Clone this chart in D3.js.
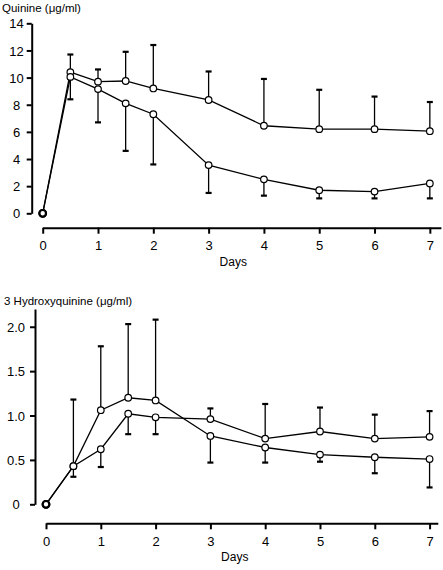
<!DOCTYPE html>
<html><head><meta charset="utf-8">
<script src="https://cdn.jsdelivr.net/npm/d3@7"></script>
<style>
body{margin:0;background:#fff;}
svg{display:block;font-family:Arial,"Liberation Sans",Helvetica,sans-serif;}
</style></head>
<body>
<svg id="chart" width="443" height="570"></svg>
<script>
// ---- data ----
const days = [0, 0.5, 1, 1.5, 2, 3, 4, 5, 6, 7];
const xTicks = [0, 1, 2, 3, 4, 5, 6, 7];

// Quinine (µg/ml)
const quinineA = [0, 10.4, 9.7, 9.75, 9.2, 8.35, 6.45, 6.2, 6.2, 6.05];
const quinineAErr = [null, 11.7, 10.6, 11.9, 12.4, 10.45, 9.9, 9.1, 8.6, 8.2];
const quinineB = [0, 10.05, 9.15, 8.1, 7.3, 3.55, 2.5, 1.7, 1.6, 2.2];
const quinineBErr = [null, 8.4, 6.7, 4.6, 3.6, 1.5, 1.3, 1.1, 1.1, 1.1];
const quinineTicks = [0, 2, 4, 6, 8, 10, 12, 14];

// 3 Hydroxyquinine (µg/ml)
const hydroA = [0, 0.43, 1.06, 1.2, 1.17, 0.77, 0.64, 0.56, 0.53, 0.51];
const hydroAErr = [null, 1.18, 1.78, 2.03, 2.08, 0.47, 0.47, 0.48, 0.35, 0.19];
const hydroB = [0, 0.43, 0.62, 1.02, 0.98, 0.96, 0.74, 0.82, 0.74, 0.76];
const hydroBErr = [null, 0.31, 0.42, 0.79, 0.79, 1.08, 1.13, 1.09, 1.01, 1.05];
const hydroTicks = [0, 0.5, 1.0, 1.5, 2.0];
const hydroTickLabels = ["0", "0.5", "1.0", "1.5", "2.0"];

const svg = d3.select("#chart");

function panel(cfg) {
  const g = svg.append("g");
  const x = d3.scaleLinear().domain(cfg.xDomain).range(cfg.xRange);
  const y = d3.scaleLinear().domain(cfg.yDomain).range(cfg.yRange);

  // y axis
  const ya = g.append("g").attr("transform", `translate(${cfg.yAxisX},0)`)
    .call(d3.axisLeft(y).tickValues(cfg.yTicks).tickSize(5).tickSizeOuter(0)
      .tickFormat((d, i) => cfg.yLabels[i]));
  ya.select(".domain").attr("stroke", "#000").attr("stroke-width", 2);
  ya.selectAll(".tick line").attr("stroke", "#000").attr("stroke-width", 2);
  ya.selectAll(".tick text").attr("font-size", 13).attr("fill", "#000")
    .attr("text-anchor", "middle").attr("x", cfg.yLabelX - cfg.yAxisX).attr("dy", "0.35em");

  // x axis
  const xa = g.append("g").attr("transform", `translate(0,${cfg.xAxisY})`)
    .call(d3.axisBottom(x).tickValues(xTicks).tickSize(6).tickSizeOuter(0).tickFormat(d3.format("d")));
  xa.select(".domain").attr("stroke", "#000").attr("stroke-width", 2);
  xa.selectAll(".tick line").attr("stroke", "#000").attr("stroke-width", 2);
  xa.selectAll(".tick text").attr("font-size", 13).attr("fill", "#000").attr("y", 13);

  g.append("text").attr("x", (x(0) + x(7)) / 2 - 3).attr("y", cfg.xAxisY + 38)
    .attr("text-anchor", "middle").attr("font-size", 12).text("Days");
  g.append("text").attr("x", cfg.titleX).attr("y", cfg.titleY)
    .attr("font-size", 11.5).text(cfg.title);

  const r = 3.3;
  const line = d3.line().x((d, i) => x(days[i])).y(d => y(d));
  cfg.series.forEach(s => {
    g.append("path").datum(s.values).attr("d", line)
      .attr("fill", "none").attr("stroke", "#000").attr("stroke-width", 1.3);
  });
  cfg.series.forEach(s => {
    s.values.forEach((v, i) => {
      const e = s.err[i];
      if (e == null) return;
      const cx = x(days[i]);
      g.append("line").attr("x1", cx).attr("x2", cx)
        .attr("y1", y(v)).attr("y2", y(e))
        .attr("stroke", "#000").attr("stroke-width", 1.3);
      g.append("line").attr("x1", cx - 3).attr("x2", cx + 3)
        .attr("y1", y(e)).attr("y2", y(e))
        .attr("stroke", "#000").attr("stroke-width", 2.2);
    });
  });
  cfg.series.forEach(s => {
    g.selectAll(null).data(s.values).enter().append("circle")
      .attr("cx", (d, i) => x(days[i])).attr("cy", d => y(d)).attr("r", r)
      .attr("fill", "#fff").attr("stroke", "#000")
      .attr("stroke-width", (d, i) => i === 0 ? 2.2 : 1.2);
  });
}

panel({
  xDomain: [0, 7.2], xRange: [42.7, 440.9],
  yDomain: [0, 14], yRange: [213.3, 23.3],
  yAxisX: 31.7, yLabelX: 16.5, xAxisY: 227.7,
  yTicks: quinineTicks, yLabels: quinineTicks.map(String),
  title: "Quinine (\u03bcg/ml)", titleX: 2, titleY: 12,
  series: [{values: quinineA, err: quinineAErr}, {values: quinineB, err: quinineBErr}]
});

panel({
  xDomain: [0, 7.15], xRange: [46, 437.8],
  yDomain: [0, 2.2], yRange: [504.3, 309],
  yAxisX: 35, yLabelX: 16, xAxisY: 523.3,
  yTicks: hydroTicks, yLabels: hydroTickLabels,
  title: "3 Hydroxyquinine (\u03bcg/ml)", titleX: 4, titleY: 305,
  series: [{values: hydroA, err: hydroAErr}, {values: hydroB, err: hydroBErr}]
});
</script>
</body></html>
